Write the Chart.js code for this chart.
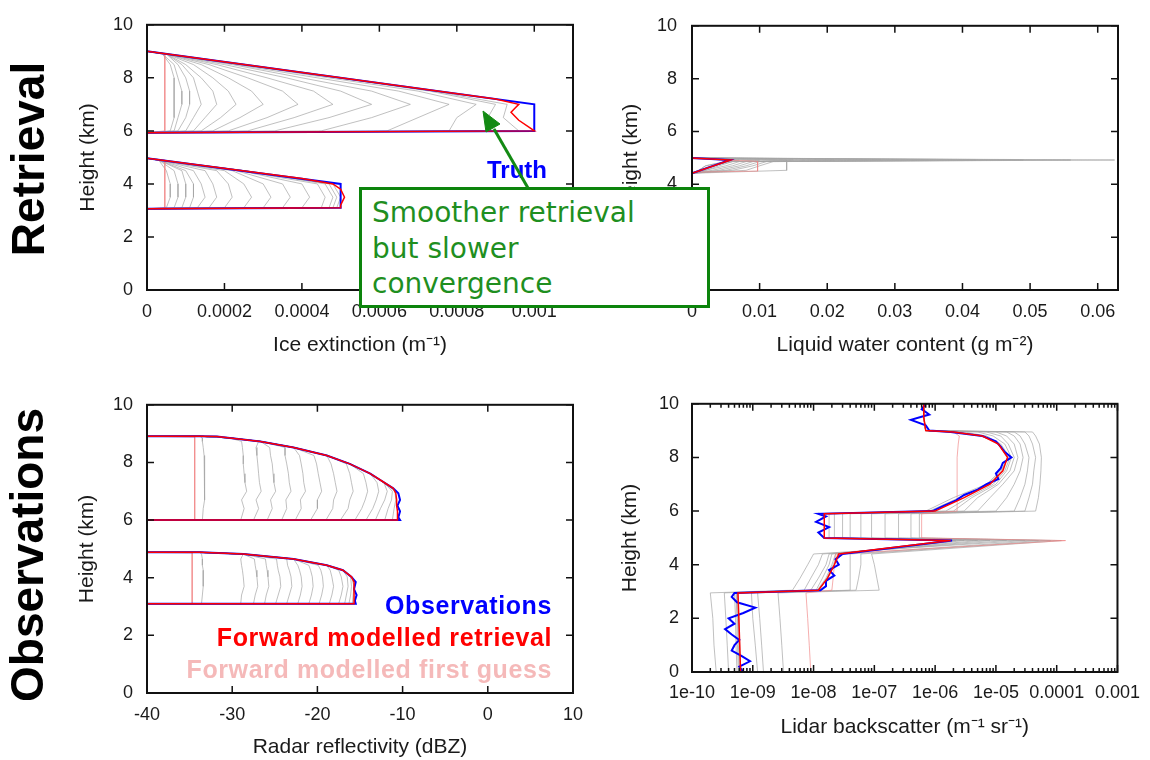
<!DOCTYPE html>
<html>
<head>
<meta charset="utf-8">
<script src="https://cdn.jsdelivr.net/npm/chart.js@4.4.1/dist/chart.umd.min.js"></script>
<style>
  html, body { margin: 0; padding: 0; background: #fff; }
  body { width: 1150px; height: 760px; position: relative; overflow: hidden; font-family: "Liberation Sans", Arial, sans-serif; }
  canvas { position: absolute; }
  #cIce { left: 0; top: 0; }
  #cLwc { left: 580px; top: 0; }
  #cRadar { left: 0; top: 380px; }
  #cLidar { left: 580px; top: 380px; }
  .side { position: absolute; width: 400px; height: 50px; line-height: 50px; text-align: center;
          font-weight: bold; font-size: 46px; color: #000; transform: rotate(-90deg); white-space: nowrap; }
  .key { position: absolute; right: 598px; height: 28px; line-height: 28px; font-weight: bold; font-size: 25px;
         letter-spacing: 0.6px; white-space: nowrap; }
  #truth { position: absolute; left: 467px; top: 156px; width: 100px; text-align: center; line-height: 28px;
           font-weight: bold; font-size: 24px; color: #0000ff; }
  #note { position: absolute; left: 359px; top: 187px; width: 351px; height: 121px; box-sizing: border-box;
          border: 3px solid #0c840c; background: #fff; padding: 5px 0 0 10px;
          font-family: "DejaVu Sans", sans-serif; font-size: 28px; line-height: 35.5px; color: #1f8f1f; white-space: nowrap; }
  #arrow { position: absolute; left: 0; top: 0; }
</style>
</head>
<body>
<canvas id="cIce" width="580" height="370"></canvas>
<canvas id="cLwc" width="570" height="370"></canvas>
<canvas id="cRadar" width="600" height="380"></canvas>
<canvas id="cLidar" width="570" height="380"></canvas>

<div class="side" style="left:-172px; top:134px;">Retrieval</div>
<div class="side" style="left:-173px; top:530px;">Observations</div>

<div id="truth">Truth</div>
<div class="key" style="top:591px; color:#0000ff;">Observations</div>
<div class="key" style="top:623px; color:#ff0000;">Forward modelled retrieval</div>
<div class="key" style="top:655px; color:#f5b9b9;">Forward modelled first guess</div>

<div id="note">Smoother retrieval<br>but slower<br>convergence</div>
<svg id="arrow" width="1150" height="760">
  <line x1="528" y1="188" x2="494" y2="129" stroke="#138a13" stroke-width="3"/>
  <polygon points="483,111 500,124 486,132" fill="#138a13" stroke="#138a13" stroke-width="1"/>
</svg>

<script>
const FONT = "'Liberation Sans', Arial, sans-serif";

// tick values and labels
const heightTicks = [0, 2, 4, 6, 8, 10];
const heightTickLabels = ["0", "2", "4", "6", "8", "10"];
const iceTicks = [0, 0.0002, 0.0004, 0.0006, 0.0008, 0.001];
const iceTickLabels = ["0", "0.0002", "0.0004", "0.0006", "0.0008", "0.001"];
const lwcTicks = [0, 0.01, 0.02, 0.03, 0.04, 0.05, 0.06];
const lwcTickLabels = ["0", "0.01", "0.02", "0.03", "0.04", "0.05", "0.06"];
const radarTicks = [-40, -30, -20, -10, 0, 10];
const radarTickLabels = ["-40", "-30", "-20", "-10", "0", "10"];
const lidarTicks = [1e-10, 1e-9, 1e-8, 1e-7, 1e-6, 1e-5, 1e-4, 1e-3];
const lidarTickLabels = ["1e-10", "1e-09", "1e-08", "1e-07", "1e-06", "1e-05", "0.0001", "0.001"];

// ---- ice extinction (m-1) ----
const iceTruthH = [9.0, 7.0, 6.0, 5.93, 4.97, 4.0, 3.1, 3.06];
const iceTruth = [0, 0.001, 0.001, 0, 0, 0.0005, 0.0005, 0];
const iceRetH = [9.0, 7.2, 7.0, 6.85, 6.7, 6.4, 6.1, 6.0, 5.93, 4.97, 4.2, 4.0, 3.8, 3.5, 3.2, 3.1, 3.06];
const iceRet = [0, 0.0009, 0.00096, 0.00095, 0.00094, 0.00096, 0.00099, 0.001, 0, 0, 0.0004, 0.00048, 0.0005, 0.00051, 0.0005, 0.0005, 0];
const iceIterH = [9.0, 8.9, 8.5, 8.0, 7.5, 7.0, 6.5, 6.0, 5.93, 4.97, 4.9, 4.5, 4.0, 3.5, 3.1, 3.06];
const iceGuess = [0, 0.000046, 0.000046, 0.000046, 0.000046, 0.000046, 0.000046, 0.000046, 0, 0, 0.000046, 0.000046, 0.000046, 0.000046, 0.000046, 0];
const iceIters = [
  [0, 0.00004, 0.00006, 0.00007, 0.00007, 0.00007, 0.00007, 0.00006, 0, 0, 0.00003, 0.00005, 0.00006, 0.00006, 0.00005, 0],
  [0, 0.00004, 0.00007, 0.00008, 0.00009, 0.00009, 0.00008, 0.00007, 0, 0, 0.00003, 0.00007, 0.00008, 0.00008, 0.00007, 0],
  [0, 0.00005, 0.00008, 0.0001, 0.00011, 0.00011, 0.0001, 0.00008, 0, 0, 0.00003, 0.00009, 0.0001, 0.0001, 0.00009, 0],
  [0, 0.00005, 0.00009, 0.00012, 0.00013, 0.00014, 0.00012, 0.0001, 0, 0, 0.00003, 0.0001, 0.00012, 0.00012, 0.00011, 0],
  [0, 0.00005, 0.0001, 0.00014, 0.00017, 0.00018, 0.00015, 0.00012, 0, 0, 0.00003, 0.00012, 0.00014, 0.00015, 0.00013, 0],
  [0, 0.00005, 0.00012, 0.00017, 0.00021, 0.00023, 0.00019, 0.00014, 0, 0, 0.00003, 0.00015, 0.00017, 0.00018, 0.00016, 0],
  [0, 0.00005, 0.00014, 0.00021, 0.00027, 0.0003, 0.00024, 0.00017, 0, 0, 0.00003, 0.00018, 0.00021, 0.00022, 0.0002, 0],
  [0, 0.00005, 0.00016, 0.00026, 0.00035, 0.00039, 0.00031, 0.00021, 0, 0, 0.00003, 0.0002, 0.00025, 0.00027, 0.00025, 0],
  [0, 0.00005, 0.00018, 0.00031, 0.00043, 0.00048, 0.00038, 0.00026, 0, 0, 0.00003, 0.00022, 0.0003, 0.00032, 0.0003, 0],
  [0, 0.00005, 0.0002, 0.00036, 0.0005, 0.00058, 0.00047, 0.00033, 0, 0, 0.00003, 0.00023, 0.00035, 0.00037, 0.00035, 0],
  [0, 0.00005, 0.00022, 0.0004, 0.00058, 0.00068, 0.00058, 0.00045, 0, 0, 0.00003, 0.00024, 0.0004, 0.00042, 0.0004, 0],
  [0, 0.00005, 0.00023, 0.00044, 0.00065, 0.00078, 0.0007, 0.00062, 0, 0, 0.00003, 0.00024, 0.00044, 0.00046, 0.00045, 0],
  [0, 0.00005, 0.00024, 0.00047, 0.0007, 0.00085, 0.0008, 0.00078, 0, 0, 0.00003, 0.00025, 0.00046, 0.00048, 0.00047, 0],
  [0, 0.00005, 0.00025, 0.00049, 0.00073, 0.0009, 0.00088, 0.0009, 0, 0, 0.00003, 0.00025, 0.00047, 0.00049, 0.00048, 0],
  [0, 0.00005, 0.00025, 0.0005, 0.00074, 0.00093, 0.00092, 0.00096, 0, 0, 0.00003, 0.00025, 0.00048, 0.0005, 0.00049, 0]
];

// ---- liquid water content (g m-2) ----
const lwcTruthH = [5.0, 4.92, 4.42];
const lwcTruth = [0, 0.0056, 0];
const lwcRet = [0, 0.0057, 0];
const lwcGuessH = [4.97, 4.87, 4.5, 4.46];
const lwcGuess = [0, 0.0097, 0.0097, 0];
const lwcIterH = [5.0, 4.92, 4.86, 4.7, 4.53, 4.42];
const lwcIters = [
  [0, 0.014, 0.014, 0.014, 0.014, 0],
  [0, 0.0625, 0.012, 0.01, 0.008, 0],
  [0, 0.056, 0.011, 0.009, 0.006, 0],
  [0, 0.049, 0.01, 0.008, 0.005, 0],
  [0, 0.042, 0.009, 0.007, 0.004, 0],
  [0, 0.035, 0.008, 0.006, 0.003, 0],
  [0, 0.028, 0.007, 0.005, 0.002, 0],
  [0, 0.021, 0.006, 0.004, 0.002, 0],
  [0, 0.015, 0.006, 0.003, 0.001, 0],
  [0, 0.01, 0.005, 0.002, 0.001, 0],
  [0, 0.007, 0.005, 0.002, 0.001, 0]
];

// ---- radar reflectivity (dBZ) ----
const radarH = [8.91, 8.91, 8.9, 8.73, 8.52, 8.24, 7.95, 7.61, 7.33, 7.1, 6.93, 6.7, 6.5, 6.3, 6.1, 6.0, 6.0,
                4.88, 4.88, 4.82, 4.65, 4.43, 4.26, 4.03, 3.85, 3.6, 3.4, 3.2, 3.1, 3.1];
const radarObs = [-40, -33.8, -31.8, -26.7, -22.8, -18.9, -16.2, -13.8, -12.3, -11.1, -10.5, -10.3, -10.6, -10.3, -10.5, -10.3, -40,
                  -40, -33.8, -28.7, -22.8, -18.9, -17.0, -16.0, -15.5, -15.7, -15.4, -15.6, -15.5, -40];
const radarRet = [-40, -33.8, -31.8, -26.7, -22.8, -18.9, -16.2, -13.8, -12.3, -11.1, -10.8, -10.7, -10.7, -10.6, -10.6, -10.6, -40,
                  -40, -33.8, -28.7, -22.8, -18.9, -17.0, -16.0, -15.7, -15.7, -15.7, -15.7, -15.7, -40];
const radarGuessH = [8.91, 8.88, 6.0, 6.0, 4.88, 4.86, 3.1, 3.1];
const radarGuess = [-40, -34.4, -34.4, -40, -40, -34.7, -34.7, -40];
const radarIterH = [8.91, 8.91, 8.85, 8.73, 8.52, 8.24, 7.95, 7.61, 7.3, 7.0, 6.7, 6.4, 6.0, 6.0,
                    4.88, 4.88, 4.82, 4.65, 4.43, 4.26, 4.03, 3.7, 3.4, 3.1, 3.1];
const radarIters = [
  [-40, -33.8, -33.5, -33.5, -33.4, -33.3, -33.3, -33.2, -33.2, -33.2, -33.3, -33.4, -33.5, -40, -40, -33.8, -33.6, -33.5, -33.5, -33.4, -33.4, -33.4, -33.5, -33.6, -40],
  [-40, -33.8, -30.3, -28.9, -28.8, -28.7, -28.7, -28.6, -28.5, -28.3, -28.9, -28.6, -29.0, -40, -40, -33.8, -28.7, -29.0, -28.9, -28.8, -28.7, -28.6, -28.9, -29.0, -40],
  [-40, -33.8, -30.3, -26.9, -27.2, -27.1, -27.0, -26.9, -26.8, -26.6, -27.2, -26.9, -27.5, -40, -40, -33.8, -28.7, -27.4, -27.3, -27.2, -27.1, -27.0, -27.3, -27.5, -40],
  [-40, -33.8, -30.3, -26.7, -25.6, -25.5, -25.3, -25.2, -25.1, -24.9, -25.5, -25.3, -25.9, -40, -40, -33.8, -28.7, -26.1, -26.0, -25.9, -25.8, -25.7, -26.0, -26.2, -40],
  [-40, -33.8, -30.3, -26.7, -23.8, -23.8, -23.6, -23.4, -23.3, -23.1, -23.7, -23.6, -24.2, -40, -40, -33.8, -28.7, -24.8, -24.7, -24.6, -24.4, -24.3, -24.6, -24.9, -40],
  [-40, -33.8, -30.3, -26.7, -22.8, -22.1, -21.9, -21.7, -21.6, -21.4, -22.0, -21.9, -22.6, -40, -40, -33.8, -28.7, -23.6, -23.5, -23.3, -23.1, -23.0, -23.3, -23.6, -40],
  [-40, -33.8, -30.3, -26.7, -22.8, -20.4, -20.1, -19.9, -19.7, -19.5, -20.0, -20.0, -20.8, -40, -40, -33.8, -28.7, -22.8, -22.3, -22.1, -21.9, -21.8, -22.0, -22.3, -40],
  [-40, -33.8, -30.3, -26.7, -22.8, -18.9, -18.4, -18.1, -17.9, -17.7, -18.1, -18.2, -19.0, -40, -40, -33.8, -28.7, -22.8, -21.0, -20.8, -20.6, -20.5, -20.7, -21.0, -40],
  [-40, -33.8, -30.3, -26.7, -22.8, -18.9, -16.6, -16.2, -16.0, -15.8, -16.2, -16.4, -17.3, -40, -40, -33.8, -28.7, -22.8, -19.9, -19.6, -19.4, -19.3, -19.5, -19.8, -40],
  [-40, -33.8, -30.3, -26.7, -22.8, -18.9, -16.2, -14.6, -14.3, -14.1, -14.4, -14.8, -15.6, -40, -40, -33.8, -28.7, -22.8, -18.9, -18.5, -18.3, -18.1, -18.3, -18.6, -40],
  [-40, -33.8, -30.3, -26.7, -22.8, -18.9, -16.2, -13.8, -13.0, -12.8, -13.1, -13.5, -14.3, -40, -40, -33.8, -28.7, -22.8, -18.9, -17.5, -17.2, -17.0, -17.2, -17.5, -40],
  [-40, -33.8, -30.3, -26.7, -22.8, -18.9, -16.2, -13.8, -12.2, -11.8, -12.1, -12.6, -13.2, -40, -40, -33.8, -28.7, -22.8, -18.9, -17.0, -16.5, -16.4, -16.6, -16.8, -40],
  [-40, -33.8, -30.3, -26.7, -22.8, -18.9, -16.2, -13.8, -12.2, -11.2, -11.3, -11.7, -12.1, -40, -40, -33.8, -28.7, -22.8, -18.9, -17.0, -16.1, -16.0, -16.1, -16.3, -40],
  [-40, -33.8, -30.3, -26.7, -22.8, -18.9, -16.2, -13.8, -12.2, -10.9, -10.8, -11.0, -11.2, -40, -40, -33.8, -28.7, -22.8, -18.9, -17.0, -16.0, -15.7, -15.8, -15.9, -40]
];

// ---- lidar backscatter (m-1 sr-1) ----
const lidarObsH = [0, 0.2, 0.4, 0.6, 0.8, 1.0, 1.2, 1.4, 1.6, 1.8, 2.0, 2.2, 2.4, 2.6, 2.8, 2.95, 3.05,
                   3.2, 3.4, 3.6, 3.8, 4.0, 4.2, 4.4, 4.9, 5.0, 5.2, 5.4, 5.6, 5.8, 5.9, 6.0,
                   6.2, 6.4, 6.6, 6.8, 7.0, 7.2, 7.4, 7.6, 7.8, 8.0, 8.2, 8.4, 8.6, 8.8, 8.95, 9.0,
                   9.2, 9.4, 9.6, 9.8, 10];
const lidarObs = [7e-10, 6e-10, 9e-10, 6.5e-10, 4.5e-10, 5e-10, 6e-10, 4.5e-10, 3.5e-10, 5e-10, 4e-10, 7e-10, 1.1e-9, 5.5e-10, 4.5e-10, 5e-10, 1.3e-8,
                  1.6e-8, 1.6e-8, 2.2e-8, 1.8e-8, 2.6e-8, 2.3e-8, 3e-8, 1.9e-6, 1.5e-8, 1.2e-8, 1.8e-8, 1.1e-8, 1.6e-8, 1.2e-8, 9e-7,
                  1.4e-6, 2.2e-6, 3e-6, 5e-6, 7e-6, 1.1e-5, 1e-5, 1.2e-5, 1.3e-5, 1.8e-5, 1.4e-5, 1.2e-5, 1e-5, 6e-6, 1.8e-6, 8e-7,
                  7e-7, 4e-7, 8e-7, 6e-7, 7e-7];
const lidarH = [0, 1, 2, 2.95, 3.05, 3.5, 4.0, 4.4, 4.9, 5.0, 5.5, 5.9, 6.0, 6.5, 7.0, 7.5, 8.0, 8.5, 8.8, 8.95, 9.0, 9.5, 10];
const lidarRet = [6.3e-10, 6.1e-10, 5.9e-10, 5.7e-10, 1.2e-8, 1.7e-8, 2.2e-8, 2.6e-8, 1.8e-6, 1.5e-8, 1.5e-8, 1.5e-8,
                  1e-6, 3e-6, 8e-6, 1.3e-5, 1.55e-5, 1.1e-5, 6e-6, 2e-6, 7e-7, 6.5e-7, 6.5e-7];
const lidarGuess = [9e-9, 8.5e-9, 8e-9, 7.5e-9, 2e-8, 2.1e-8, 2.2e-8, 2.3e-8, 1.4e-4, 6e-7, 6e-7, 6e-7,
                    2.3e-6, 2.3e-6, 2.3e-6, 2.3e-6, 2.3e-6, 2.4e-6, 2.5e-6, 2e-6, 7e-7, 6.5e-7, 6.5e-7];
const lidarIters = [
  [3.2e-9, 3e-9, 2.8e-9, 2.6e-9, 1.2e-7, 1.1e-7, 1e-7, 9e-8, 1.2e-4, 5.5e-7, 5.5e-7, 5.5e-7, 4.5e-5, 5e-5, 5.3e-5, 5.5e-5, 5.6e-5, 5.2e-5, 4.5e-5, 4e-5, 7e-7, 6.5e-7, 6.5e-7],
  [1.5e-9, 1.4e-9, 1.3e-9, 1.2e-9, 5e-8, 5.5e-8, 6e-8, 6e-8, 8e-5, 4e-7, 4e-7, 4e-7, 3e-5, 3.5e-5, 4e-5, 4.2e-5, 4.5e-5, 4e-5, 3.5e-5, 3e-5, 7e-7, 6.5e-7, 6.5e-7],
  [1.2e-9, 1.1e-9, 1e-9, 9.5e-10, 4e-8, 4e-8, 4e-8, 4e-8, 5e-5, 2.5e-7, 2.5e-7, 2.5e-7, 2e-5, 2.5e-5, 3e-5, 3.3e-5, 3.5e-5, 3e-5, 2.5e-5, 2e-5, 7e-7, 6.5e-7, 6.5e-7],
  [2.5e-10, 2.3e-10, 2.2e-10, 2e-10, 4.5e-9, 6e-9, 8e-9, 1e-8, 3e-5, 1.5e-7, 1.5e-7, 1.5e-7, 1e-5, 1.5e-5, 2e-5, 2.5e-5, 2.8e-5, 2.5e-5, 2e-5, 1.5e-5, 7e-7, 6.5e-7, 6.5e-7],
  [4e-10, 3.8e-10, 3.6e-10, 3.4e-10, 7e-9, 9e-9, 1.2e-8, 1.4e-8, 1.5e-5, 9e-8, 9e-8, 9e-8, 5e-6, 8e-6, 1.3e-5, 2e-5, 2.3e-5, 2e-5, 1.5e-5, 1e-5, 7e-7, 6.5e-7, 6.5e-7],
  [5.5e-10, 5.3e-10, 5.2e-10, 5e-10, 9e-9, 1.2e-8, 1.6e-8, 1.8e-8, 8e-6, 6e-8, 6e-8, 6e-8, 3e-6, 5e-6, 1.1e-5, 1.7e-5, 2e-5, 1.6e-5, 1.2e-5, 7e-6, 7e-7, 6.5e-7, 6.5e-7],
  [5.8e-10, 5.6e-10, 5.5e-10, 5.3e-10, 1.1e-8, 1.4e-8, 1.8e-8, 2e-8, 5e-6, 4e-8, 4e-8, 4e-8, 2e-6, 4e-6, 1e-5, 1.5e-5, 1.8e-5, 1.4e-5, 9e-6, 5e-6, 7e-7, 6.5e-7, 6.5e-7],
  [6e-10, 5.8e-10, 5.6e-10, 5.4e-10, 1.15e-8, 1.6e-8, 2e-8, 2.3e-8, 3e-6, 3e-8, 3e-8, 3e-8, 1.5e-6, 3.5e-6, 9e-6, 1.4e-5, 1.7e-5, 1.2e-5, 7e-6, 3e-6, 7e-7, 6.5e-7, 6.5e-7],
  [6.2e-10, 6e-10, 5.8e-10, 5.6e-10, 1.2e-8, 1.65e-8, 2.1e-8, 2.5e-8, 2.2e-6, 2.2e-8, 2.2e-8, 2.2e-8, 7e-7, 2e-6, 7e-6, 1.2e-5, 1.6e-5, 1.1e-5, 6e-6, 2e-6, 7e-7, 6.5e-7, 6.5e-7],
  [6.3e-10, 6.1e-10, 5.9e-10, 5.7e-10, 1.2e-8, 1.7e-8, 2.2e-8, 2.6e-8, 2e-6, 1.8e-8, 1.8e-8, 1.8e-8, 8e-7, 2.5e-6, 7.5e-6, 1.25e-5, 1.55e-5, 1.1e-5, 6e-6, 2e-6, 7e-7, 6.5e-7, 6.5e-7]
];

const BLUE = "#0000ff";
const RED = "#ff0000";
const PINK = "rgba(240, 130, 130, 0.65)";
const GRAY = "rgba(165, 165, 165, 0.7)";

function pts(xs, hs) {
  return xs.map((x, i) => ({ x: x, y: hs[i] }));
}

function line(xs, hs, color, width, order) {
  return {
    data: pts(xs, hs),
    showLine: true,
    borderColor: color,
    backgroundColor: color,
    borderWidth: width,
    pointRadius: 0,
    tension: 0,
    fill: false,
    order: order
  };
}

// gnuplot style box with inward ticks on all four sides
const framePlugin = {
  id: "frame",
  afterDatasetsDraw(chart, args, opts) {
    const { ctx, chartArea: a, scales: { x, y } } = chart;
    ctx.save();
    ctx.strokeStyle = "#111";
    ctx.lineWidth = 1.5;
    ctx.beginPath();
    const tickX = (px, len) => {
      ctx.moveTo(px, a.bottom); ctx.lineTo(px, a.bottom - len);
      ctx.moveTo(px, a.top); ctx.lineTo(px, a.top + len);
    };
    const tickY = (py, len) => {
      ctx.moveTo(a.left, py); ctx.lineTo(a.left + len, py);
      ctx.moveTo(a.right, py); ctx.lineTo(a.right - len, py);
    };
    x.ticks.forEach(t => tickX(x.getPixelForValue(t.value), 7));
    if (opts.minor) {
      x.ticks.slice(0, -1).forEach(t => {
        for (let m = 2; m < 10; m++) tickX(x.getPixelForValue(t.value * m), 4);
      });
    }
    y.ticks.forEach(t => tickY(y.getPixelForValue(t.value), 7));
    ctx.stroke();
    ctx.lineWidth = 2;
    ctx.strokeRect(a.left, a.top, a.right - a.left, a.bottom - a.top);
    ctx.restore();
  }
};

function xAxis(o) {
  return {
    type: o.type || "linear",
    min: o.min,
    max: o.max,
    grid: { display: false, drawTicks: false },
    border: { display: false },
    ticks: {
      autoSkip: false, maxRotation: 0, minRotation: 0, padding: o.pad,
      color: "#1a1a1a", font: { family: FONT, size: 18 },
      callback: (v, i) => o.labels[i]
    },
    afterBuildTicks: s => { s.ticks = o.ticks.map(v => ({ value: v })); },
    afterFit: s => { s.height = o.height; },
    title: { display: true, text: o.title, color: "#1a1a1a", font: { family: FONT, size: 21 }, padding: { top: 0, bottom: o.titlePad } }
  };
}

function yAxis(o) {
  return {
    type: "linear",
    min: 0,
    max: 10,
    grid: { display: false, drawTicks: false },
    border: { display: false },
    ticks: {
      autoSkip: false, padding: o.pad,
      color: "#1a1a1a", font: { family: FONT, size: 18 },
      callback: (v, i) => heightTickLabels[i]
    },
    afterBuildTicks: s => { s.ticks = heightTicks.map(v => ({ value: v })); },
    afterFit: s => { s.width = o.width; },
    title: { display: true, text: "Height (km)", color: "#1a1a1a", font: { family: FONT, size: 21 }, padding: { top: o.titlePad, bottom: 0 } }
  };
}

function makeChart(id, datasets, padding, xOpts, yOpts, minor) {
  return new Chart(document.getElementById(id), {
    type: "scatter",
    data: { datasets: datasets },
    options: {
      responsive: false,
      animation: false,
      events: [],
      layout: { padding: padding },
      plugins: { legend: { display: false }, tooltip: { enabled: false }, frame: { minor: !!minor } },
      scales: { x: xAxis(xOpts), y: yAxis(yOpts) }
    },
    plugins: [framePlugin]
  });
}

// ice extinction
makeChart("cIce", [
  line(iceRet, iceRetH, RED, 1.5, 0),
  line(iceTruth, iceTruthH, BLUE, 2, 1),
  line(iceGuess, iceIterH, PINK, 1, 2),
  ...iceIters.map(r => line(r, iceIterH, GRAY, 1, 3))
], { left: 0, top: 18, right: 7, bottom: 0 },
{ min: 0, max: 0.0011, ticks: iceTicks, labels: iceTickLabels, pad: 11, height: 80, title: "Ice extinction (m\u207B\u00B9)", titlePad: 12.4 },
{ width: 147, pad: 14, titlePad: 75.4 });

// liquid water content
makeChart("cLwc", [
  line(lwcRet, lwcTruthH, RED, 1.5, 0),
  line(lwcTruth, lwcTruthH, BLUE, 2, 1),
  line(lwcGuess, lwcGuessH, PINK, 1, 2),
  ...lwcIters.map(r => line(r, lwcIterH, GRAY, 1, 3))
], { left: 0, top: 18, right: 32, bottom: 0 },
{ min: 0, max: 0.063, ticks: lwcTicks, labels: lwcTickLabels, pad: 11, height: 80, title: "Liquid water content (g m\u207B\u00B2)", titlePad: 12.4 },
{ width: 112, pad: 15, titlePad: 38.4 });

// radar reflectivity
makeChart("cRadar", [
  line(radarRet, radarH, RED, 1.5, 0),
  line(radarObs, radarH, BLUE, 2, 1),
  line(radarGuess, radarGuessH, PINK, 1, 2),
  ...radarIters.map(r => line(r, radarIterH, GRAY, 1, 3))
], { left: 0, top: 20, right: 27, bottom: 0 },
{ min: -40, max: 10, ticks: radarTicks, labels: radarTickLabels, pad: 11, height: 67, title: "Radar reflectivity (dBZ)", titlePad: 0.4 },
{ width: 147, pad: 14, titlePad: 74.4 });

// lidar backscatter
makeChart("cLidar", [
  line(lidarRet, lidarH, RED, 1.5, 0),
  line(lidarObs, lidarObsH, BLUE, 2, 1),
  line(lidarGuess, lidarH, PINK, 1, 2),
  ...lidarIters.map(r => line(r, lidarH, GRAY, 1, 3))
], { left: 0, top: 20, right: 32, bottom: 0 },
{ type: "logarithmic", min: 1e-10, max: 1e-3, ticks: lidarTicks, labels: lidarTickLabels, pad: 10, height: 88, title: "Lidar backscatter (m\u207B\u00B9 sr\u207B\u00B9)", titlePad: 20.4 },
{ width: 112, pad: 13, titlePad: 37.4 }, true);
</script>
</body>
</html>
